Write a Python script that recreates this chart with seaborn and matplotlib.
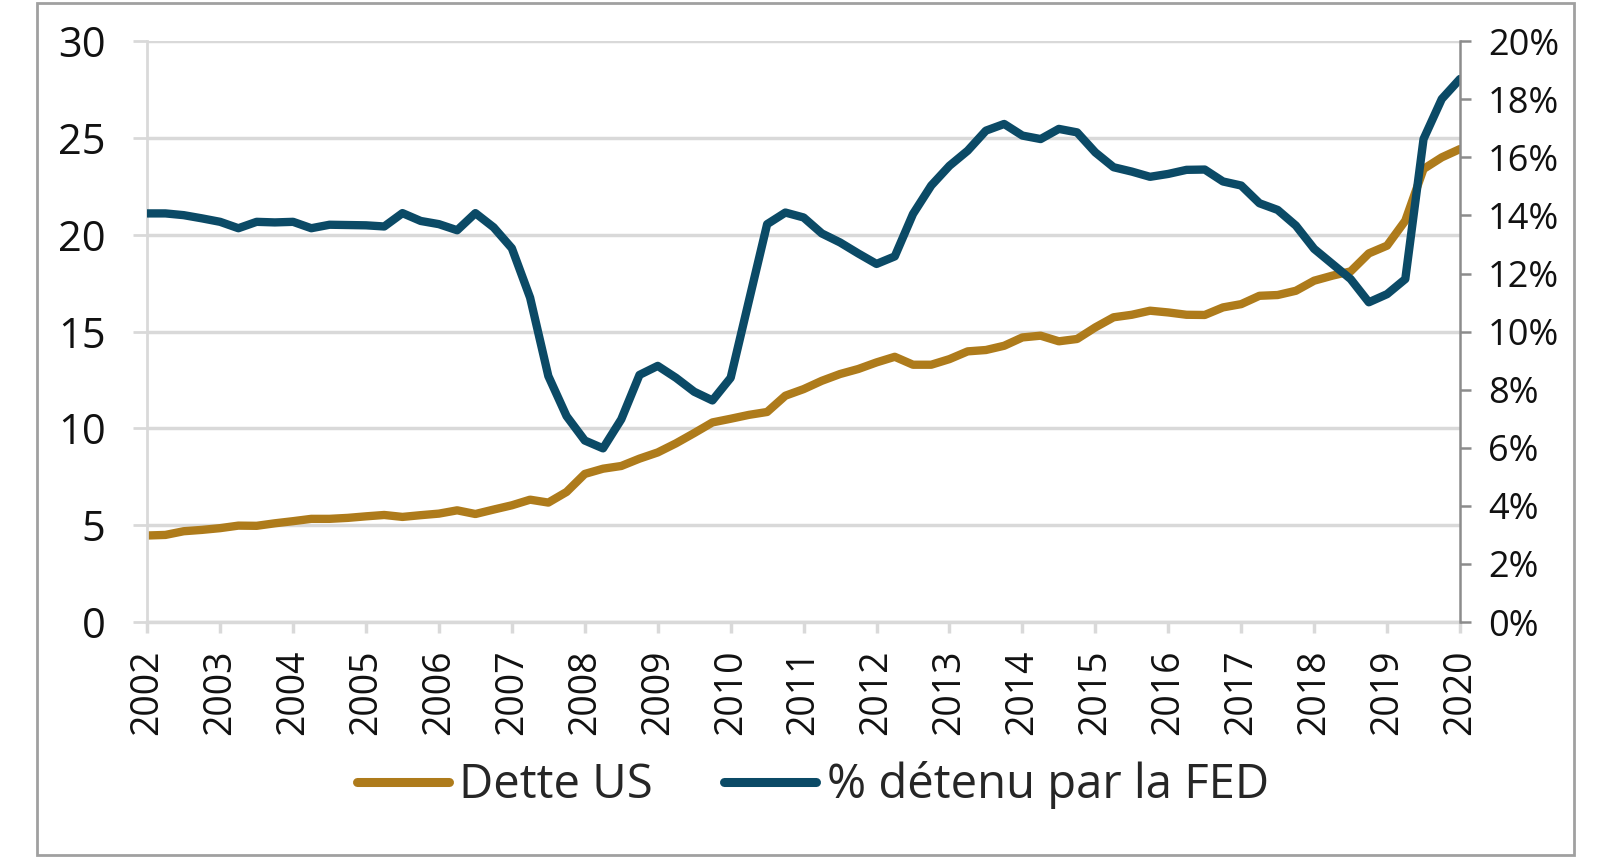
import numpy as np
import pandas as pd
import matplotlib
matplotlib.use("Agg")
import matplotlib.pyplot as plt
import seaborn as sns
from matplotlib.patches import Rectangle
from matplotlib.ticker import FuncFormatter

# quarterly values 2002 Q1 -> 2020 Q1
dette_us = [4.47, 4.50, 4.69, 4.76, 4.85, 4.98, 4.97, 5.10, 5.21, 5.33, 5.33, 5.38,
            5.46, 5.53, 5.43, 5.52, 5.60, 5.77, 5.58, 5.81, 6.03, 6.32, 6.17, 6.72,
            7.65, 7.92, 8.06, 8.44, 8.76, 9.23, 9.76, 10.31, 10.50, 10.70, 10.85, 11.69,
            12.03, 12.46, 12.81, 13.07, 13.41, 13.70, 13.29, 13.29, 13.58, 13.98, 14.05, 14.27,
            14.70, 14.79, 14.50, 14.62, 15.22, 15.74, 15.87, 16.08, 15.99, 15.87, 15.86, 16.25,
            16.42, 16.85, 16.89, 17.11, 17.63, 17.89, 18.11, 19.04, 19.44, 20.73, 23.40, 24.00,
            24.43]
pct_fed = [14.07, 14.07, 14.01, 13.90, 13.78, 13.56, 13.78, 13.76, 13.78, 13.56, 13.68, 13.67,
           13.66, 13.62, 14.08, 13.81, 13.70, 13.49, 14.08, 13.59, 12.87, 11.17, 8.47, 7.09,
           6.25, 5.98, 6.98, 8.51, 8.82, 8.41, 7.93, 7.63, 8.41, 11.06, 13.70, 14.10,
           13.93, 13.38, 13.07, 12.69, 12.33, 12.59, 14.05, 15.03, 15.71, 16.23, 16.92, 17.15,
           16.75, 16.63, 16.98, 16.86, 16.17, 15.66, 15.51, 15.33, 15.43, 15.57, 15.58, 15.17,
           15.03, 14.42, 14.19, 13.65, 12.85, 12.33, 11.81, 11.01, 11.29, 11.81, 16.63, 18.01,
           18.70]
years = list(range(2002, 2021))

df = pd.DataFrame({"t": 2002 + np.arange(len(dette_us)) / 4,
                   "dette": dette_us,
                   "fed": np.array(pct_fed) / 100})

sns.set_style("white")
plt.rcParams["font.family"] = ["Open Sans", "DejaVu Sans"]

gold = "#AE7B1B"
blue = "#0B4A66"
grid = "#D9D9D9"

fig = plt.figure(figsize=(16, 8.58), dpi=100)
ax = fig.add_axes([0.092, 0.275, 0.8205, 0.677])
ax2 = ax.twinx()

sns.lineplot(data=df, x="t", y="dette", ax=ax, color=gold, lw=6, label="Dette US", legend=False)
sns.lineplot(data=df, x="t", y="fed", ax=ax2, color=blue, lw=6, label="% détenu par la FED", legend=False)

ax.set_xlim(2002, 2020)
ax.set_ylim(0, 30)
ax.set_yticks(range(0, 31, 5))
ax.set_xticks(years)
ax.set_xticklabels([str(y) for y in years], rotation=90)
ax.yaxis.grid(True, color=grid, lw=2.5)
ax.set_axisbelow(True)
ax.set_xlabel("")
ax.set_ylabel("")

ax2.set_ylim(0, 0.2)
ax2.set_yticks(np.arange(0, 0.201, 0.02))
ax2.yaxis.set_major_formatter(FuncFormatter(lambda v, p: f"{v*100:.0f}%"))
ax2.set_ylabel("")

ax.spines["top"].set_visible(False)
ax2.spines["top"].set_visible(False)
ax.spines["right"].set_visible(False)
ax2.spines["left"].set_visible(False)
ax2.spines["bottom"].set_visible(False)
ax.spines["left"].set_color(grid)
ax.spines["left"].set_linewidth(2)
ax.spines["bottom"].set_color(grid)
ax.spines["bottom"].set_linewidth(2.5)
ax2.spines["right"].set_color("#8C8C8C")
ax2.spines["right"].set_linewidth(1.8)

ax.tick_params(axis="y", which="both", left=True, length=10, width=2, color=grid,
               labelsize=30, pad=20)
ax.tick_params(axis="x", bottom=True, length=8, width=2.5, color=grid,
               labelsize=27, pad=12)
ax2.tick_params(axis="y", right=True, length=8, width=1.8, color="#8C8C8C",
                labelsize=26, pad=12)
for lab in ax.get_yticklabels() + ax.get_xticklabels() + ax2.get_yticklabels():
    lab.set_color("#111111")

h1, l1 = ax.get_legend_handles_labels()
h2, l2 = ax2.get_legend_handles_labels()
leg = fig.legend(h1 + h2, l1 + l2, loc="center", bbox_to_anchor=(0.508, 0.085), ncol=2,
                 frameon=False, fontsize=34, handlelength=1.95, columnspacing=1.5,
                 handletextpad=0.22)
for line in leg.get_lines():
    line.set_solid_capstyle("round")
    line.set_linewidth(6.5)

fig.patches.append(Rectangle((0.023, 0.003), 0.961, 0.993, transform=fig.transFigure,
                             fill=False, edgecolor="#A0A0A0", lw=2))

fig.savefig("out.png", dpi=100, facecolor="white")
